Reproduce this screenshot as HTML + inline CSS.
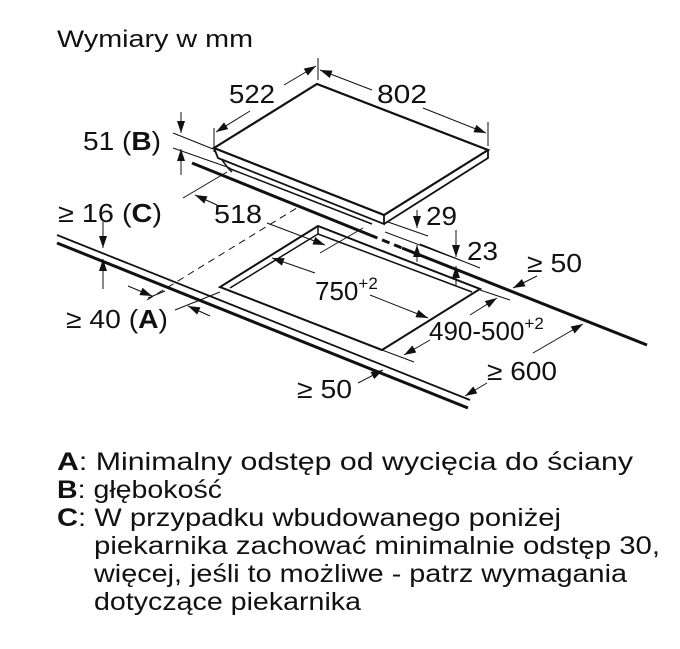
<!DOCTYPE html>
<html><head><meta charset="utf-8"><style>
body{margin:0;background:#fff;width:680px;height:649px;overflow:hidden}
svg{position:absolute;left:0;top:0}
text{font-family:"Liberation Sans",sans-serif;fill:#111}
</style></head><body>
<svg width="680" height="649" viewBox="0 0 680 649">
<defs><marker id="a" viewBox="0 0 12 8" refX="12" refY="4" markerWidth="12" markerHeight="8" markerUnits="userSpaceOnUse" orient="auto"><path d="M0,0L12,4L0,8z" fill="#111"/></marker></defs>
<g stroke="#111" fill="none">
<path d="M214,148 L317,84 L488,150 L384,215 Z" stroke-width="2.2" fill="#fff"/>
<path d="M214,148 L218,158 L384,224 L384,215 M384,224 L488,158 L488,150" stroke-width="1.8"/>
<path d="M222,160 L228,168 L372,224 M228,168 L232,172" stroke-width="1.5"/>
<path d="M192,163 L370,235 M402,248 L647,345" stroke-width="3"/>
<path d="M370,235 L402,248" stroke-width="3" stroke-dasharray="8,5"/>
<path d="M57,235 L470,400" stroke-width="1.8"/>
<path d="M57,243 L468,408" stroke-width="3"/>
<path d="M147,300 L300,206" stroke-width="1" stroke-dasharray="7,5"/>
<path d="M318,226 L220,287 L382,350 L480,289 Z" stroke-width="2"/>
<path d="M318,226 L318,234 L230,288 M318,234 L472,292" stroke-width="1.5"/>
<g stroke-width="1">
<path d="M214,128V152 M318,58V80 M488,122V146"/>
<path d="M250,111 L216,132" marker-end="url(#a)"/>
<path d="M284,85 L316,66" marker-end="url(#a)"/>
<path d="M372,90 L320,70" marker-end="url(#a)"/>
<path d="M423,108 L486,133" marker-end="url(#a)"/>
<path d="M173,133 L213,149 M173,148 L230,168"/>
<path d="M181,112 V133" marker-end="url(#a)"/>
<path d="M181,175 V149" marker-end="url(#a)"/>
<path d="M183,198 L227,172"/>
<path d="M217,205 L195,195" marker-end="url(#a)"/>
<path d="M267,223 L325,245" marker-end="url(#a)"/>
<path d="M320,253 L363,228"/>
<path d="M388,222 L428,236 M385,232 L465,262 M420,244 L480,268"/>
<path d="M417,210 V228" marker-end="url(#a)"/>
<path d="M417,262 V245" marker-end="url(#a)"/>
<path d="M456,230 V257" marker-end="url(#a)"/>
<path d="M456,285 V266" marker-end="url(#a)"/>
<path d="M537,276 L513,288" marker-end="url(#a)"/>
<path d="M103,222 V248" marker-end="url(#a)"/>
<path d="M103,289 V259" marker-end="url(#a)"/>
<path d="M128,286 L152,296" marker-end="url(#a)"/>
<path d="M210,316 L188,306" marker-end="url(#a)"/>
<path d="M148,298 L165,291 M175,310 L220,292"/>
<path d="M315,273 L272,258" marker-end="url(#a)"/>
<path d="M370,295 L428,318" marker-end="url(#a)"/>
<path d="M480,290 L510,300 M382,350 L414,362"/>
<path d="M470,315 L497,298" marker-end="url(#a)"/>
<path d="M430,340 L404,355" marker-end="url(#a)"/>
<path d="M533,353 L583,324" marker-end="url(#a)"/>
<path d="M487,383 L465,396" marker-end="url(#a)"/>
<path d="M358,383 L383,370" marker-end="url(#a)"/>
</g>
</g>
<g font-size="26" lengthAdjust="spacingAndGlyphs">
<text x="57" y="47" font-size="24" textLength="196" lengthAdjust="spacingAndGlyphs">Wymiary w mm</text>
<text x="229" y="103" textLength="46" lengthAdjust="spacingAndGlyphs">522</text>
<text x="377" y="103" textLength="50" lengthAdjust="spacingAndGlyphs">802</text>
<text x="83" y="150" textLength="78" lengthAdjust="spacingAndGlyphs">51 (<tspan font-weight="bold">B</tspan>)</text>
<text x="58" y="222" textLength="104" lengthAdjust="spacingAndGlyphs">≥ 16 (<tspan font-weight="bold">C</tspan>)</text>
<text x="214" y="223" textLength="48" lengthAdjust="spacingAndGlyphs">518</text>
<text x="426" y="225" textLength="31" lengthAdjust="spacingAndGlyphs">29</text>
<text x="467" y="260" textLength="31" lengthAdjust="spacingAndGlyphs">23</text>
<text x="527" y="272" textLength="55" lengthAdjust="spacingAndGlyphs">≥ 50</text>
<text x="315" y="300">750<tspan font-size="17" dy="-11">+2</tspan></text>
<text x="66" y="328" textLength="102" lengthAdjust="spacingAndGlyphs">≥ 40 (<tspan font-weight="bold">A</tspan>)</text>
<text x="429" y="340">490-500<tspan font-size="17" dy="-11">+2</tspan></text>
<text x="487" y="380" textLength="70" lengthAdjust="spacingAndGlyphs">≥ 600</text>
<text x="297" y="398" textLength="55" lengthAdjust="spacingAndGlyphs">≥ 50</text>
</g>
<g font-size="25">
<text x="57" y="470" textLength="576" lengthAdjust="spacingAndGlyphs"><tspan font-weight="bold">A</tspan>: Minimalny odstęp od wycięcia do ściany</text>
<text x="57" y="498" textLength="165" lengthAdjust="spacingAndGlyphs"><tspan font-weight="bold">B</tspan>: głębokość</text>
<text x="57" y="526" textLength="504" lengthAdjust="spacingAndGlyphs"><tspan font-weight="bold">C</tspan>: W przypadku wbudowanego poniżej</text>
<text x="94" y="554" textLength="566" lengthAdjust="spacingAndGlyphs">piekarnika zachować minimalnie odstęp 30,</text>
<text x="94" y="582" textLength="533" lengthAdjust="spacingAndGlyphs">więcej, jeśli to możliwe - patrz wymagania</text>
<text x="94" y="610" textLength="267" lengthAdjust="spacingAndGlyphs">dotyczące piekarnika</text>
</g>
</svg>
</body></html>
